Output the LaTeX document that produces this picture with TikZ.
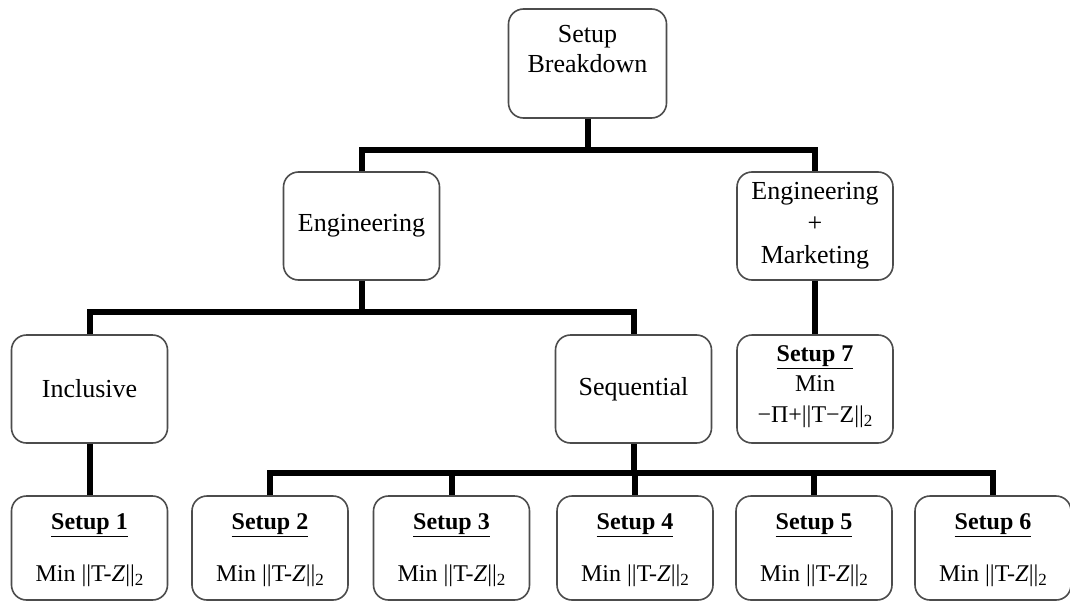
\documentclass[tikz,border=0pt]{standalone}
\usepackage{fontspec}
\setmainfont{Liberation Serif}
\newcommand{\lowtwo}{\raisebox{-0.35ex}{\fontsize{17}{17}\selectfont 2}}
\begin{document}
\begin{tikzpicture}[x=1pt,y=-1pt,
  box/.style={draw=black!70,line width=1.6pt,rounded corners=15pt,fill=white,
    minimum width=156pt,minimum height=108pt,inner sep=0pt},
  lowbox/.style={box,minimum height=104pt},
  conn/.style={line width=6pt,black},
  txt/.style={align=center,inner sep=0pt,font=\fontsize{26}{30}\selectfont},
  stxt/.style={align=center,inner sep=0pt,font=\fontsize{24}{28}\selectfont}]
\useasboundingbox[fill=white] (0,0) rectangle (1070,602);
% boxes
\node[box,minimum width=158pt,minimum height=109pt] (sb) at (587.5,63.5) {};
\node[box] (eng) at (361.5,226) {};
\node[box] (em) at (815,226) {};
\node[box] (inc) at (89.5,389) {};
\node[box] (seq) at (633.5,389) {};
\node[box] (s7) at (815,389) {};
\node[lowbox] (s1) at (89.5,548) {};
\node[lowbox] (s2) at (270,548) {};
\node[lowbox] (s3) at (451.5,548) {};
\node[lowbox] (s4) at (635,548) {};
\node[lowbox] (s5) at (814,548) {};
\node[lowbox] (s6) at (993,548) {};
% junctions
\coordinate (j1) at (587.5,150);
\coordinate (j2) at (361.5,312);
\coordinate (j3) at (633.5,473);
% connectors
\draw[conn] (sb.south) -- (j1);
\draw[conn] (eng.north) -- (eng.north |- j1) -- (em.north |- j1) -- (em.north);
\draw[conn] (eng.south) -- (j2);
\draw[conn] (inc.north) -- (inc.north |- j2) -- (seq.north |- j2) -- (seq.north);
\draw[conn] (em.south) -- (s7.north);
\draw[conn] (inc.south) -- (s1.north);
\draw[conn] (seq.south) -- (j3);
\draw[conn] (s2.north) -- (s2.north |- j3) -- (s6.north |- j3) -- (s6.north);
\draw[conn] (s3.north) -- (s3.north |- j3);
\draw[conn] (s4.north) -- (s4.north |- j3);
\draw[conn] (s5.north) -- (s5.north |- j3);
% texts
\node[txt] (tsb) at (587.5,49) {Setup\\Breakdown};
\node[txt] (teng) at (361.5,226) {Engineering};
\node[txt,font=\fontsize{26}{32}\selectfont] (tem) at (815,226) {Engineering\\+\\Marketing};
\node[txt] (tinc) at (89.5,389) {Inclusive};
\node[txt] (tseq) at (633.5,389) {Sequential};
\node[stxt] (ts7a) at (815,357) {\underline{\textbf{Setup 7}}};
\node[stxt] (ts7b) at (815,384) {Min};
\node[stxt] (ts7c) at (815,417) {−Π+||T−Z||\lowtwo};
\foreach \n/\k in {s1/1,s2/2,s3/3,s4/4,s5/5,s6/6}{
  \node[stxt] (t\n a) at ([yshift=-30pt]\n.north) {\underline{\textbf{Setup \k}}};
  \node[stxt] (t\n b) at ([yshift=-81pt]\n.north) {Min ||T-\textit{Z}||\lowtwo};
}
\end{tikzpicture}
\end{document}
